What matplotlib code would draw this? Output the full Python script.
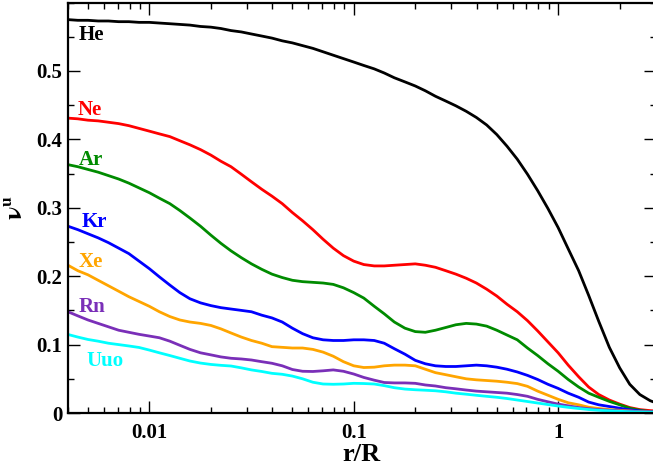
import numpy as np
import matplotlib
matplotlib.use('Agg')
import matplotlib.pyplot as plt
from matplotlib.ticker import FixedLocator, FuncFormatter, MultipleLocator, NullFormatter

plt.rcParams['font.family'] = ['Liberation Serif', 'DejaVu Serif']
plt.rcParams['font.weight'] = 'bold'
plt.rcParams['mathtext.fontset'] = 'stix'

# r/R sample points (20 per decade)
r = [0.004, 0.00447, 0.00501, 0.00562, 0.00631, 0.00708, 0.00794, 0.00891,
     0.01, 0.0112, 0.0126, 0.0141, 0.0158, 0.0178, 0.02, 0.0224, 0.0251, 0.0282,
     0.0316, 0.0355, 0.0398, 0.0447, 0.0501, 0.0562, 0.0631, 0.0708, 0.0794, 0.0891,
     0.1, 0.112, 0.126, 0.141, 0.158, 0.178, 0.2, 0.224, 0.251, 0.282,
     0.316, 0.355, 0.398, 0.447, 0.501, 0.562, 0.631, 0.708, 0.794, 0.891,
     1.0, 1.12, 1.26, 1.41, 1.58, 1.78, 2.0, 2.24, 2.51, 2.82, 3.0]

he = [0.575, 0.574, 0.574, 0.573, 0.573, 0.572, 0.572, 0.571,
      0.571, 0.570, 0.569, 0.568, 0.567, 0.565, 0.564, 0.562, 0.559, 0.557,
      0.554, 0.551, 0.548, 0.544, 0.541, 0.537, 0.533, 0.528, 0.523, 0.518,
      0.513, 0.508, 0.503, 0.497, 0.490, 0.484, 0.478, 0.471, 0.463, 0.456,
      0.449, 0.441, 0.432, 0.421, 0.407, 0.390, 0.371, 0.349, 0.325, 0.299,
      0.271, 0.240, 0.208, 0.172, 0.134, 0.096, 0.066, 0.042, 0.027, 0.018, 0.015]
ne = [0.431, 0.430, 0.428, 0.427, 0.425, 0.423, 0.420, 0.416,
      0.412, 0.408, 0.404, 0.398, 0.392, 0.385, 0.377, 0.368, 0.360, 0.349,
      0.338, 0.327, 0.317, 0.306, 0.293, 0.281, 0.268, 0.254, 0.241, 0.230,
      0.222, 0.217, 0.215, 0.215, 0.216, 0.217, 0.218, 0.216, 0.213, 0.208,
      0.203, 0.197, 0.190, 0.181, 0.171, 0.159, 0.148, 0.135, 0.120, 0.104,
      0.088, 0.070, 0.053, 0.038, 0.027, 0.019, 0.013, 0.008, 0.005, 0.0035, 0.003]
ar = [0.363, 0.360, 0.356, 0.352, 0.347, 0.342, 0.336, 0.329,
      0.322, 0.314, 0.306, 0.296, 0.285, 0.273, 0.260, 0.248, 0.237, 0.227,
      0.218, 0.210, 0.203, 0.198, 0.194, 0.192, 0.191, 0.190, 0.188, 0.183,
      0.176, 0.168, 0.156, 0.145, 0.133, 0.124, 0.119, 0.118, 0.121, 0.125,
      0.129, 0.131, 0.130, 0.127, 0.121, 0.114, 0.107, 0.095, 0.084, 0.072,
      0.061, 0.049, 0.038, 0.029, 0.023, 0.017, 0.012, 0.007, 0.004, 0.002, 0.0015]
kr = [0.273, 0.268, 0.262, 0.256, 0.249, 0.241, 0.233, 0.222,
      0.211, 0.199, 0.187, 0.176, 0.167, 0.161, 0.157, 0.154, 0.152, 0.150,
      0.148, 0.143, 0.139, 0.133, 0.124, 0.116, 0.110, 0.107, 0.106, 0.106,
      0.107, 0.107, 0.106, 0.102, 0.094, 0.086, 0.077, 0.072, 0.069, 0.068,
      0.068, 0.069, 0.070, 0.069, 0.067, 0.064, 0.060, 0.055, 0.049, 0.042,
      0.036, 0.029, 0.023, 0.016, 0.012, 0.0095, 0.007, 0.0047, 0.003, 0.002, 0.0018]
xe = [0.216, 0.208, 0.202, 0.194, 0.186, 0.178, 0.170, 0.163,
      0.156, 0.148, 0.141, 0.136, 0.133, 0.131, 0.128, 0.123, 0.117, 0.111,
      0.106, 0.102, 0.097, 0.096, 0.095, 0.095, 0.093, 0.089, 0.083, 0.075,
      0.069, 0.0665, 0.067, 0.069, 0.070, 0.070, 0.069, 0.064, 0.059, 0.056,
      0.053, 0.050, 0.0485, 0.0475, 0.0465, 0.045, 0.043, 0.039, 0.032, 0.026,
      0.020, 0.015, 0.012, 0.0085, 0.0066, 0.005, 0.004, 0.003, 0.002, 0.0015, 0.0015]
rn = [0.148, 0.142, 0.136, 0.131, 0.126, 0.121, 0.118, 0.115,
      0.1125, 0.110, 0.105, 0.099, 0.093, 0.088, 0.085, 0.082, 0.080, 0.079,
      0.0775, 0.075, 0.0727, 0.069, 0.0636, 0.061, 0.0607, 0.0617, 0.063, 0.061,
      0.057, 0.052, 0.048, 0.0446, 0.044, 0.044, 0.0434, 0.041, 0.0395, 0.037,
      0.0354, 0.0336, 0.032, 0.031, 0.030, 0.029, 0.027, 0.0244, 0.020, 0.0164,
      0.013, 0.0105, 0.008, 0.0063, 0.005, 0.004, 0.0032, 0.0026, 0.002, 0.0015, 0.0015]
uuo = [0.1148, 0.111, 0.1075, 0.105, 0.102, 0.100, 0.098, 0.0958,
       0.092, 0.088, 0.084, 0.080, 0.076, 0.073, 0.071, 0.0697, 0.0687, 0.066,
       0.063, 0.0607, 0.058, 0.0566, 0.054, 0.050, 0.045, 0.0424, 0.042, 0.0424,
       0.0434, 0.0431, 0.0424, 0.040, 0.037, 0.035, 0.034, 0.0333, 0.0325, 0.031,
       0.029, 0.0275, 0.0259, 0.0244, 0.023, 0.0212, 0.019, 0.0168, 0.0146, 0.0124,
       0.0102, 0.0083, 0.0066, 0.0051, 0.004, 0.0032, 0.0025, 0.0019, 0.0015, 0.0012, 0.001]

names = ['He', 'Ne', 'Ar', 'Kr', 'Xe', 'Rn', 'Uuo']
colors = ['black', '#ff0000', '#008b00', '#0000ff', '#ffa500', '#7a2fb8', '#00ffff']
# label baseline anchors (x, y) in data coords
label_pos = [(0.0045, 0.545), (0.00445, 0.436), (0.0045, 0.363),
             (0.00465, 0.272), (0.0045, 0.214), (0.0045, 0.148), (0.00492, 0.068)]

fig = plt.figure(figsize=(6.53, 4.66), dpi=100)
ax = fig.add_axes([0.1041, 0.1137, 0.9000, 0.8809])

for y, c in zip([he, ne, ar, kr, xe, rn, uuo], colors):
    ax.plot(r, y, color=c, lw=2.0, solid_joinstyle='round')

for name, c, (lx, ly) in zip(names, colors, label_pos):
    ax.text(lx, ly, name, color=c, fontsize=15, fontweight='bold', va='baseline', ha='left')

ax.set_xscale('log')
ax.set_xlim(0.004, 3.0)
ax.set_ylim(0, 0.6)

ax.xaxis.set_major_locator(FixedLocator([0.01, 0.1, 1]))
ax.xaxis.set_major_formatter(FuncFormatter(lambda v, p: '%g' % v))
ax.xaxis.set_minor_locator(FixedLocator([k * 10.0 ** e for e in (-3, -2, -1, 0) for k in range(2, 10)]))
ax.xaxis.set_minor_formatter(NullFormatter())
ax.yaxis.set_major_locator(FixedLocator([0, 0.1, 0.2, 0.3, 0.4, 0.5]))
ax.yaxis.set_major_formatter(FuncFormatter(lambda v, p: '%g' % round(v, 2)))
ax.yaxis.set_minor_locator(MultipleLocator(0.05))

ax.tick_params(which='both', direction='in', top=True, right=True, width=1.0)
ax.tick_params(which='major', length=8.5, labelsize=15)
ax.tick_params(axis='x', which='major', pad=7)
ax.tick_params(axis='y', which='major', pad=4)
ax.tick_params(which='minor', length=4.5)
for s in ax.spines.values():
    s.set_linewidth(1.6)

ax.set_xlabel('r/R', fontsize=19, fontweight='bold', labelpad=0)
ax.set_ylabel(r'$\mathbf{\nu}^{\mathbf{u}}$', fontsize=18, labelpad=7)

fig.savefig('out.png', dpi=100)
